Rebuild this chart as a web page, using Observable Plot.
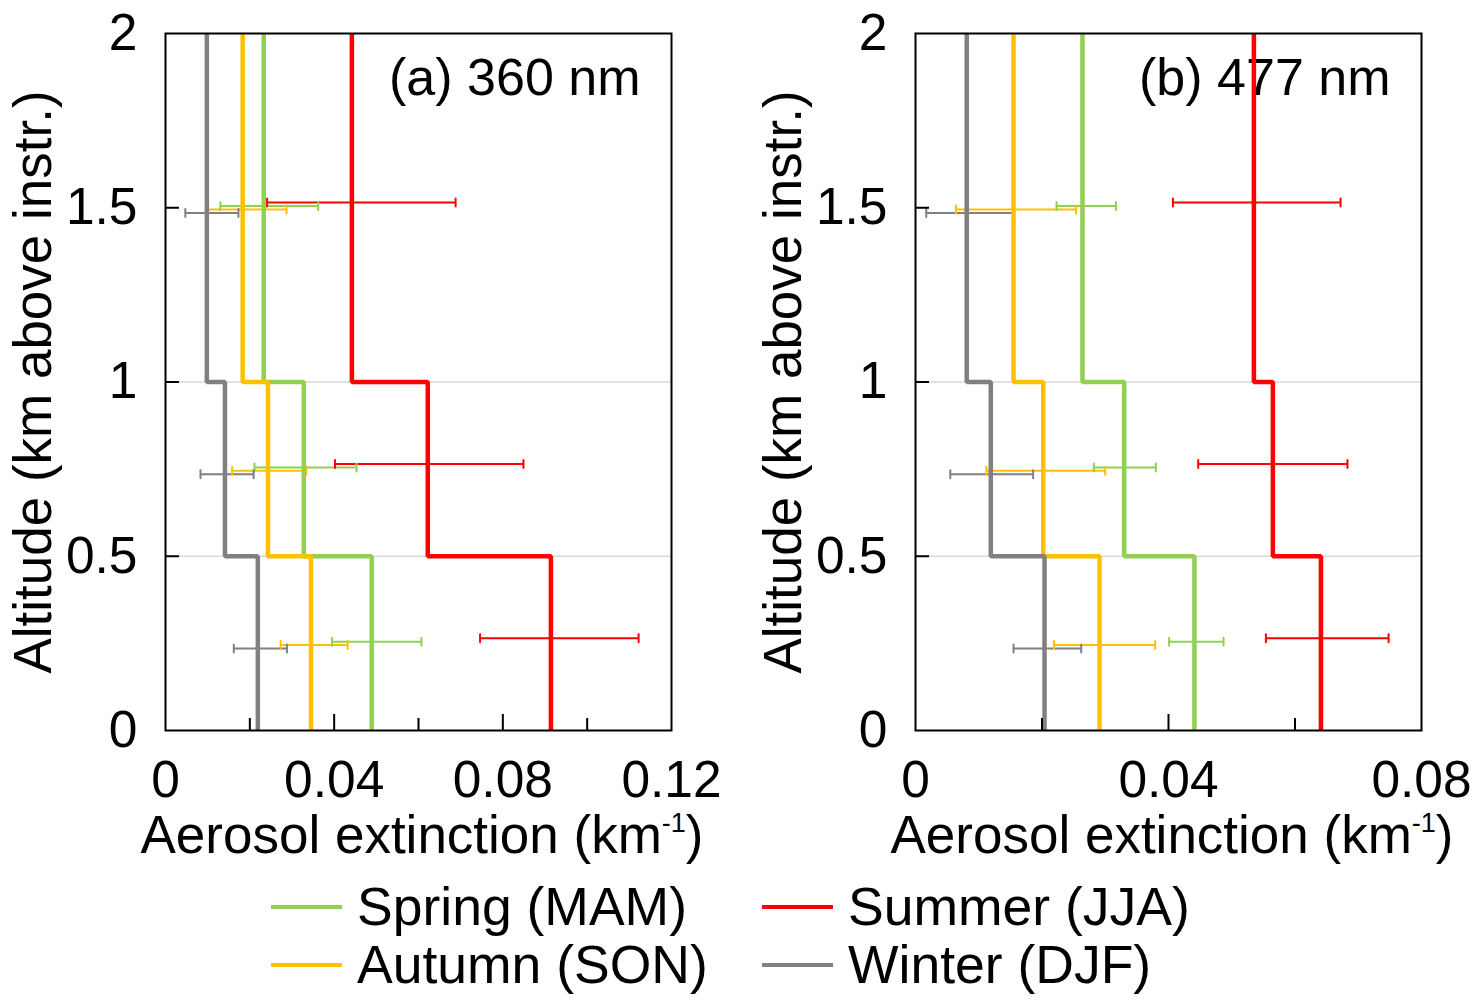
<!DOCTYPE html>
<html>
<head>
<meta charset="utf-8">
<script src="https://cdn.jsdelivr.net/npm/d3@7"></script>
<script src="https://cdn.jsdelivr.net/npm/@observablehq/plot@0.6"></script>
<style>
  body { margin: 0; background: white; overflow: hidden; font-family: "Liberation Sans", Arial, sans-serif; }
  #page { position: relative; width: 1483px; height: 1006px; overflow: hidden; }
  .panel { position: absolute; top: 0; width: 740px; height: 860px; }
  .panel svg { max-width: none !important; }
  .item { position: absolute; display: flex; align-items: center; height: 54px; font-size: 53.5px; line-height: 54px; white-space: nowrap; }
  .swatch { width: 71px; height: 4px; margin-right: 15px; }
</style>
</head>
<body>
<div id="page"></div>
<script>
const seasons = ["Spring (MAM)", "Summer (JJA)", "Autumn (SON)", "Winter (DJF)"];
const seasonColors = ["#92D050", "#FF0000", "#FFC000", "#808080"];
const layerEdges = [0, 0.5, 1, 2];

// extinction per layer (0-0.5, 0.5-1, 1-2 km), 360 nm
const spring360 = [0.0489, 0.0328, 0.0233];
const summer360 = [0.0914, 0.0622, 0.0442];
const autumn360 = [0.0345, 0.0243, 0.0183];
const winter360 = [0.0219, 0.0141, 0.0098];
// error bar ends, 360 nm
const springLo360 = [0.0395, 0.0211, 0.0130], springHi360 = [0.0607, 0.0453, 0.0362];
const summerLo360 = [0.0746, 0.0402, 0.0241], summerHi360 = [0.1122, 0.0849, 0.0688];
const autumnLo360 = [0.0273, 0.0158, 0.0101], autumnHi360 = [0.0432, 0.0334, 0.0287];
const winterLo360 = [0.0162, 0.0083, 0.0047], winterHi360 = [0.0288, 0.0209, 0.0173];

// extinction per layer, 477 nm
const spring477 = [0.0441, 0.0330, 0.0264];
const summer477 = [0.0641, 0.0565, 0.0535];
const autumn477 = [0.0291, 0.0202, 0.0155];
const winter477 = [0.0204, 0.0119, 0.0081];
// error bar ends, 477 nm
const springLo477 = [0.0401, 0.0282, 0.0223], springHi477 = [0.0487, 0.0380, 0.0317];
const summerLo477 = [0.0554, 0.0447, 0.0407], summerHi477 = [0.0748, 0.0683, 0.0672];
const autumnLo477 = [0.0219, 0.0112, 0.0064], autumnHi477 = [0.0379, 0.0300, 0.0254];
const winterLo477 = [0.0155, 0.0055, 0.0017], winterHi477 = [0.0262, 0.0186, 0.0155];

// altitudes where the error bars sit (slightly staggered per season)
const springAlt = [0.255, 0.755, 1.505];
const summerAlt = [0.265, 0.765, 1.515];
const autumnAlt = [0.245, 0.745, 1.495];
const winterAlt = [0.235, 0.735, 1.485];

const yLabels = [0, 0.5, 1, 1.5, 2];
const yMajor = [0.5, 1, 1.5];

const font = "'Liberation Sans', Arial, sans-serif";
const plotW = 506, plotH = 697;

// vertical cap for error bars
const cap = {draw(context, l) { context.moveTo(0, 0); context.lineTo(0, -l); }};

function panel(label, values, lows, highs, xMax, xLabels, xMajor, xMinor) {
    const alts = [springAlt, summerAlt, autumnAlt, winterAlt];
    // step profile: each layer is a vertical segment, joined at the layer edges
    const profile = seasons.flatMap((s, k) => values[k].flatMap((v, i) => [
        {season: s, x: v, y: layerEdges[i]},
        {season: s, x: v, y: layerEdges[i + 1]}
    ]));
    const errs = seasons.flatMap((s, k) => alts[k].map((a, i) => ({
        season: s, alt: a, lo: lows[k][i], hi: highs[k][i]
    })));

    const chart = Plot.plot({
        width: 740,
        height: 860,
        marginLeft: 165,
        marginRight: 69,
        marginTop: 33,
        marginBottom: 130,
        x: {domain: [0, xMax]},
        y: {domain: [0, 2]},
        color: {domain: seasons, range: seasonColors},
        style: {fontFamily: font, background: "white", overflow: "visible", maxWidth: "none"},
        marks: [
            Plot.ruleY(layerEdges.slice(1, -1), {stroke: "#d9d9d9", strokeWidth: 1.5}),
            Plot.text([label], {frameAnchor: "top-right", dx: -31, dy: 25, lineAnchor: "top", fontSize: 52}),
            Plot.ruleY(errs, {y: "alt", x1: "lo", x2: "hi", stroke: "season", strokeWidth: 2}),
            Plot.vector(errs, {x: "lo", y: "alt", length: 8, rotate: 0, anchor: "middle", shape: cap, stroke: "season", strokeWidth: 2}),
            Plot.vector(errs, {x: "hi", y: "alt", length: 8, rotate: 0, anchor: "middle", shape: cap, stroke: "season", strokeWidth: 2}),
            Plot.line(profile, {x: "x", y: "y", z: "season", stroke: "season", strokeWidth: 4.5, strokeLinejoin: "miter", strokeLinecap: "butt"}),
            Plot.tickX(xMajor, {x: d => d, insetTop: plotH - 16, stroke: "black", strokeWidth: 2}),
            Plot.tickX(xMinor, {x: d => d, insetTop: plotH - 12, stroke: "black", strokeWidth: 2}),
            Plot.tickY(yMajor, {y: d => d, insetRight: plotW - 14, stroke: "black", strokeWidth: 2}),
            Plot.frame({stroke: "black", strokeWidth: 2}),
            Plot.axisX(xLabels, {tickSize: 0, tickPadding: 30, fontSize: 51.5, label: null, tickFormat: d => String(d)}),
            Plot.axisY(yLabels, {tickSize: 0, tickPadding: 28, fontSize: 51.5, label: null, tickFormat: d => String(d)}),
            Plot.text(["Altitude (km above instr.)"], {frameAnchor: "left", textAnchor: "middle", dx: -131, rotate: -90, fontSize: 53})
        ]
    });

    // x axis title with a superscript unit
    const title = d3.select(chart).append("text")
        .attr("x", 165 + plotW / 2 + 4)
        .attr("y", 853)
        .attr("text-anchor", "middle")
        .attr("font-family", font)
        .attr("font-size", 53)
        .attr("fill", "black");
    title.append("tspan").text("Aerosol extinction (km");
    title.append("tspan").attr("font-size", 27).attr("dy", -21).text("-1");
    title.append("tspan").attr("font-size", 53).attr("dy", 21).text(")");

    return chart;
}

const page = d3.select("#page");

page.append("div").attr("class", "panel").style("left", "0px")
    .append(() => panel("(a) 360 nm",
        [spring360, summer360, autumn360, winter360],
        [springLo360, summerLo360, autumnLo360, winterLo360],
        [springHi360, summerHi360, autumnHi360, winterHi360],
        0.12, [0, 0.04, 0.08, 0.12], [0.04, 0.08], [0.02, 0.06, 0.1]));

page.append("div").attr("class", "panel").style("left", "750px")
    .append(() => panel("(b) 477 nm",
        [spring477, summer477, autumn477, winter477],
        [springLo477, summerLo477, autumnLo477, winterLo477],
        [springHi477, summerHi477, autumnHi477, winterHi477],
        0.08, [0, 0.04, 0.08], [0.04], [0.02, 0.06]));

// legend below the two panels, two columns
const legendSpots = [[271, 880], [762, 880], [271, 938], [762, 938]];
seasons.forEach((s, k) => {
    const item = page.append("div").attr("class", "item")
        .style("left", legendSpots[k][0] + "px")
        .style("top", legendSpots[k][1] + "px");
    item.append("span").attr("class", "swatch").style("background", seasonColors[k]);
    item.append("span").text(s);
});
</script>
</body>
</html>
